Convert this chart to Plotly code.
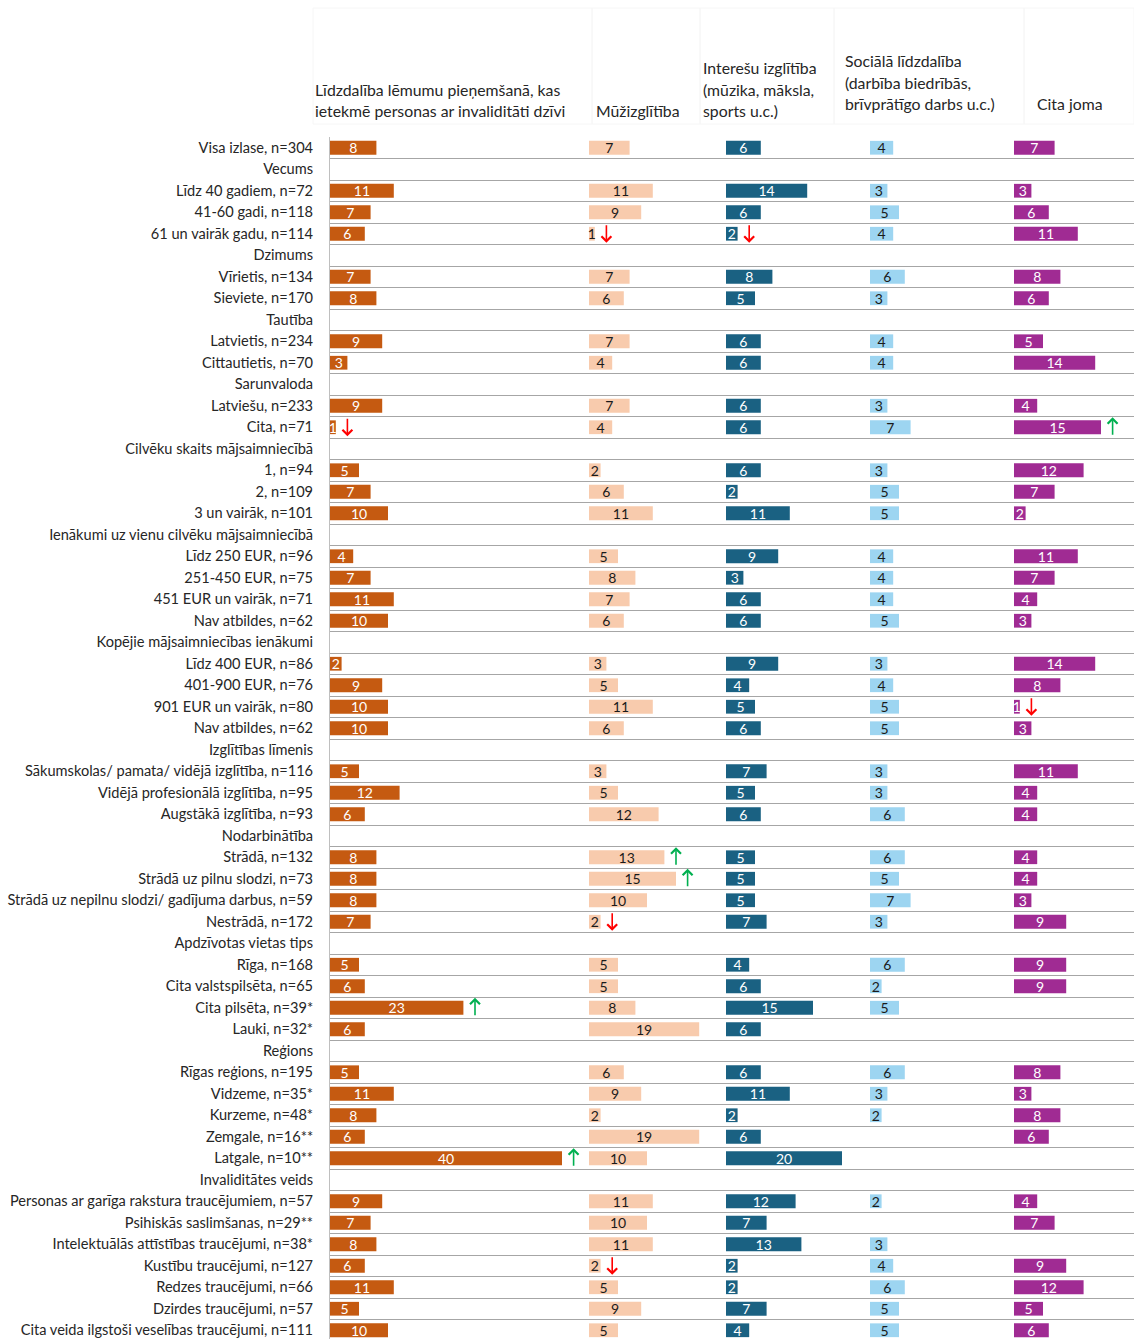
import plotly.graph_objects as go

N = None

row_labels = [
    "Visa izlase, n=304", "Vecums", "Līdz 40 gadiem, n=72", "41-60 gadi, n=118",
    "61 un vairāk gadu, n=114", "Dzimums", "Vīrietis, n=134", "Sieviete, n=170",
    "Tautība", "Latvietis, n=234", "Cittautietis, n=70", "Sarunvaloda",
    "Latviešu, n=233", "Cita, n=71", "Cilvēku skaits mājsaimniecībā", "1, n=94",
    "2, n=109", "3 un vairāk, n=101", "Ienākumi uz vienu cilvēku mājsaimniecībā",
    "Līdz 250 EUR, n=96", "251-450 EUR, n=75", "451 EUR un vairāk, n=71",
    "Nav atbildes, n=62", "Kopējie mājsaimniecības ienākumi", "Līdz 400 EUR, n=86",
    "401-900 EUR, n=76", "901 EUR un vairāk, n=80", "Nav atbildes, n=62",
    "Izglītības līmenis", "Sākumskolas/ pamata/ vidējā izglītība, n=116",
    "Vidējā profesionālā izglītība, n=95", "Augstākā izglītība, n=93",
    "Nodarbinātība", "Strādā, n=132", "Strādā uz pilnu slodzi, n=73",
    "Strādā uz nepilnu slodzi/ gadījuma darbus, n=59", "Nestrādā, n=172",
    "Apdzīvotas vietas tips", "Rīga, n=168", "Cita valstspilsēta, n=65",
    "Cita pilsēta, n=39*", "Lauki, n=32*", "Reģions", "Rīgas reģions, n=195",
    "Vidzeme, n=35*", "Kurzeme, n=48*", "Zemgale, n=16**", "Latgale, n=10**",
    "Invaliditātes veids", "Personas ar garīga rakstura traucējumiem, n=57",
    "Psihiskās saslimšanas, n=29**", "Intelektuālās attīstības traucējumi, n=38*",
    "Kustību traucējumi, n=127", "Redzes traucējumi, n=66", "Dzirdes traucējumi, n=57",
    "Cita veida ilgstoši veselības traucējumi, n=111",
]

panel_titles = [
    ["Līdzdalība lēmumu pieņemšanā, kas", "ietekmē personas ar invaliditāti dzīvi"],
    ["Mūžizglītība"],
    ["Interešu izglītība", "(mūzika, māksla,", "sports u.c.)"],
    ["Sociālā līdzdalība", "(darbība biedrībās,", "brīvprātīgo darbs u.c.)"],
    ["Cita joma"],
]

vals_lemumi = [8, N, 11, 7, 6, N, 7, 8, N, 9, 3, N, 9, 1, N, 5, 7, 10, N, 4, 7, 11, 10,
               N, 2, 9, 10, 10, N, 5, 12, 6, N, 8, 8, 8, 7, N, 5, 6, 23, 6, N, 5, 11, 8,
               6, 40, N, 9, 7, 8, 6, 11, 5, 10]
vals_muzizglitiba = [7, N, 11, 9, 1, N, 7, 6, N, 7, 4, N, 7, 4, N, 2, 6, 11, N, 5, 8, 7, 6,
                     N, 3, 5, 11, 6, N, 3, 5, 12, N, 13, 15, 10, 2, N, 5, 5, 8, 19, N, 6, 9,
                     2, 19, 10, N, 11, 10, 11, 2, 5, 9, 5]
vals_interesu = [6, N, 14, 6, 2, N, 8, 5, N, 6, 6, N, 6, 6, N, 6, 2, 11, N, 9, 3, 6, 6,
                 N, 9, 4, 5, 6, N, 7, 5, 6, N, 5, 5, 5, 7, N, 4, 6, 15, 6, N, 6, 11, 2,
                 6, 20, N, 12, 7, 13, 2, 2, 7, 4]
vals_sociala = [4, N, 3, 5, 4, N, 6, 3, N, 4, 4, N, 3, 7, N, 3, 5, 5, N, 4, 4, 4, 5,
                N, 3, 4, 5, 5, N, 3, 3, 6, N, 6, 5, 7, 3, N, 6, 2, 5, N, N, 6, 3, 2,
                N, N, N, 2, N, 3, 4, 6, 5, 5]
vals_cita = [7, N, 3, 6, 11, N, 8, 6, N, 5, 14, N, 4, 15, N, 12, 7, 2, N, 11, 7, 4, 3,
             N, 14, 8, 1, 3, N, 11, 4, 4, N, 4, 4, 3, 9, N, 9, 9, N, N, N, 8, 3, 8,
             6, N, N, 4, 7, N, 9, 12, 5, 6]

# statistically significant differences: row index -> direction
sig_lemumi = {13: "down", 40: "up", 47: "up"}
sig_muzizglitiba = {4: "down", 33: "up", 34: "up", 36: "down", 52: "down"}
sig_interesu = {4: "down"}
sig_sociala = {}
sig_cita = {13: "up", 26: "down"}

panel_values = [vals_lemumi, vals_muzizglitiba, vals_interesu, vals_sociala, vals_cita]
panel_sig = [sig_lemumi, sig_muzizglitiba, sig_interesu, sig_sociala, sig_cita]
bar_colors = ["#C55A11", "#F8CBAD", "#1A6182", "#9DD5F1", "#A02B93"]
text_colors = ["#FFFFFF", "#1A1A1A", "#FFFFFF", "#1A1A1A", "#FFFFFF"]

W, H = 1134, 1339
FONT = "Lato"
PX_PER_UNIT = 5.8
panel_px = [(330, 589), (589, 726), (726, 870), (870, 1014), (1014, 1134)]
TOP = 137
ROW_PX = 21.5
n_rows = len(row_labels)
y_pos = list(range(n_rows))

fig = go.Figure()

for k, vals in enumerate(panel_values):
    xa = "x" if k == 0 else f"x{k+1}"
    fig.add_trace(go.Bar(
        x=vals, y=y_pos, orientation="h",
        marker=dict(color=bar_colors[k], line=dict(width=0)),
        text=["" if v is None else str(v) for v in vals],
        textposition="inside", insidetextanchor="middle", textangle=0,
        constraintext="none",
        textfont=dict(color=text_colors[k], size=14, family=FONT),
        width=0.64, xaxis=xa, yaxis="y", cliponaxis=False,
        hoverinfo="skip", showlegend=False,
    ))
    a, b = panel_px[k]
    axname = "xaxis" if k == 0 else f"xaxis{k+1}"
    fig.layout[axname] = dict(
        domain=[a / W, b / W], range=[0, (b - a) / PX_PER_UNIT],
        showgrid=False, zeroline=False, showline=False, showticklabels=False,
        ticks="", anchor="y", fixedrange=True,
    )
    # significance arrows
    for r, d in panel_sig[k].items():
        up = d == "up"
        fig.add_annotation(
            x=vals[r] + 2, y=r, xref=xa, yref="y", text="", showarrow=True,
            axref="pixel", ayref="pixel", ax=0, ay=19 if up else -19,
            yshift=10 if up else -9,
            arrowhead=4, arrowsize=1.2, arrowwidth=1.6,
            arrowcolor="#00B050" if up else "#FF0000",
        )

bottom_val = (n_rows - 0.5) - ((TOP + n_rows * ROW_PX) - H) / ROW_PX
fig.update_layout(
    width=W, height=H,
    margin=dict(l=0, r=0, t=0, b=0),
    paper_bgcolor="white", plot_bgcolor="white",
    bargap=0.36,
    yaxis=dict(
        domain=[0, 1 - TOP / H], range=[bottom_val, -0.5],
        tickmode="array", tickvals=y_pos, ticktext=row_labels,
        showgrid=False, zeroline=False,
        showline=True, linecolor="#BFBFBF", linewidth=1,
        ticks="", ticklabelstandoff=13,
        tickfont=dict(family=FONT, size=14.6, color="#262626"),
        minor=dict(tickmode="linear", tick0=0.5, dtick=1, showgrid=True,
                   gridcolor="#A6A6A6", gridwidth=1, ticks=""),
        anchor="x", fixedrange=True, automargin=False,
    ),
    font=dict(family=FONT, size=14, color="#262626"),
)

# header texts
title_x = [313, 594, 701, 843, 1035]
title_last_line_y = [111, 111, 111, 104, 104]
for k, lines in enumerate(panel_titles):
    nL = len(lines)
    for i, line in enumerate(lines):
        ypx = title_last_line_y[k] - (nL - 1 - i) * 22
        fig.add_annotation(
            x=title_x[k] / W, y=1 - ypx / H, xref="paper", yref="paper",
            text=line, showarrow=False, xanchor="left", yanchor="middle",
            font=dict(family=FONT, size=15.8, color="#262626"),
        )

# faint header boxes
box_edges = [313, 592, 700, 834, 1024, 1134]
for i in range(len(box_edges) - 1):
    fig.add_shape(type="rect", xref="paper", yref="paper",
                  x0=box_edges[i] / W, x1=box_edges[i + 1] / W,
                  y0=1 - 124 / H, y1=1 - 8 / H,
                  line=dict(color="#F6F6F6", width=1), fillcolor="rgba(0,0,0,0)",
                  layer="below")

fig.write_html("out.html", config={"displayModeBar": False},
               post_script="document.body.style.margin='0px';document.body.style.overflow='hidden';")
